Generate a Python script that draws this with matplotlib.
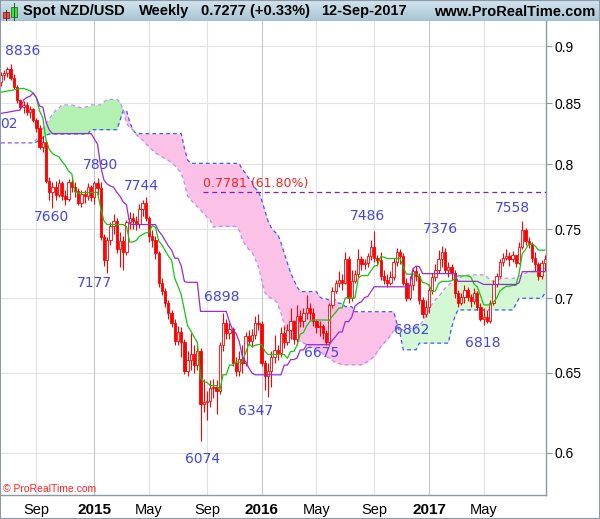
import numpy as np
import pandas as pd
import matplotlib
matplotlib.use("Agg")
import matplotlib.pyplot as plt
from matplotlib.patches import Rectangle
from matplotlib.lines import Line2D
from matplotlib.colors import LinearSegmentedColormap
from matplotlib.ticker import FixedLocator, NullLocator

plt.rcParams["font.family"] = ["Liberation Sans", "DejaVu Sans"]

# weekly NZD/USD candles
week_start = "2014-06-16"
first_open = 0.8680
close = [
    0.8740, 0.8760, 0.8800, 0.8720, 0.8640, 0.8530, 0.8470, 0.8490, 0.8430, 0.8450,
    0.8360, 0.8290, 0.8140, 0.8180, 0.7870, 0.7780, 0.7820, 0.7760, 0.7850, 0.7750,
    0.7730, 0.7860, 0.7820, 0.7790, 0.7700, 0.7770, 0.7750, 0.7820, 0.7740, 0.7850,
    0.7810, 0.7440, 0.7270, 0.7420, 0.7520, 0.7560, 0.7350, 0.7410, 0.7330, 0.7550,
    0.7580, 0.7560, 0.7540, 0.7650, 0.7700, 0.7580, 0.7450, 0.7420, 0.7320, 0.7110,
    0.7050, 0.6970, 0.6900, 0.6830, 0.6710, 0.6770, 0.6700, 0.6510, 0.6580, 0.6620,
    0.6550, 0.6640, 0.6300, 0.6310, 0.6320, 0.6400, 0.6410, 0.6380, 0.6680, 0.6830,
    0.6760, 0.6790, 0.6560, 0.6510, 0.6590, 0.6560, 0.6740, 0.6710, 0.6750, 0.6830,
    0.6820, 0.6560, 0.6480, 0.6510, 0.6600, 0.6650, 0.6630, 0.6760, 0.6700, 0.6780,
    0.6840, 0.6720, 0.6880, 0.6840, 0.6900, 0.6930, 0.6900, 0.6840, 0.6800, 0.6810,
    0.6760, 0.6700, 0.6950, 0.7050, 0.7110, 0.7130, 0.7110, 0.7280, 0.7000, 0.7120,
    0.7170, 0.7280, 0.7240, 0.7250, 0.7300, 0.7370, 0.7290, 0.7270, 0.7160, 0.7130,
    0.7110, 0.7150, 0.7260, 0.7330, 0.7300, 0.7110, 0.7000, 0.7090, 0.7190, 0.7160,
    0.6990, 0.6890, 0.6940, 0.7060, 0.7150, 0.7200, 0.7280, 0.7330, 0.7200, 0.7220,
    0.7180, 0.7040, 0.6970, 0.7010, 0.7060, 0.7010, 0.6980, 0.7040, 0.6940, 0.6860,
    0.6870, 0.6840, 0.6970, 0.7100, 0.7160, 0.7260, 0.7290, 0.7300, 0.7280, 0.7310,
    0.7250, 0.7370, 0.7490, 0.7410, 0.7390, 0.7290, 0.7240, 0.7160, 0.7253, 0.7277,
]
high = [
    0.8770, 0.8790, 0.8815, 0.8836, 0.8750, 0.8660, 0.8540, 0.8520, 0.8510, 0.8480,
    0.8460, 0.8380, 0.8320, 0.8230, 0.8190, 0.7900, 0.7860, 0.7870, 0.7880, 0.7870,
    0.7800, 0.7885, 0.7880, 0.7860, 0.7810, 0.7800, 0.7800, 0.7850, 0.7840, 0.7870,
    0.7890, 0.7860, 0.7460, 0.7440, 0.7550, 0.7610, 0.7580, 0.7480, 0.7450, 0.7570,
    0.7630, 0.7620, 0.7600, 0.7690, 0.7720, 0.7744, 0.7600, 0.7490, 0.7450, 0.7340,
    0.7140, 0.7070, 0.6990, 0.6920, 0.6860, 0.6810, 0.6800, 0.6720, 0.6640, 0.6760,
    0.6680, 0.6700, 0.6660, 0.6460, 0.6380, 0.6450, 0.6460, 0.6450, 0.6700, 0.6898,
    0.6860, 0.6830, 0.6800, 0.6600, 0.6640, 0.6680, 0.6770, 0.6780, 0.6790, 0.6880,
    0.6890, 0.6840, 0.6580, 0.6560, 0.6640, 0.6750, 0.6680, 0.6800, 0.6810, 0.6820,
    0.6930, 0.6850, 0.6950, 0.6920, 0.6930, 0.7020, 0.6970, 0.6930, 0.6860, 0.6840,
    0.6820, 0.6780, 0.6970, 0.7080, 0.7130, 0.7190, 0.7170, 0.7330, 0.7300, 0.7200,
    0.7200, 0.7350, 0.7300, 0.7280, 0.7320, 0.7420, 0.7486, 0.7310, 0.7330, 0.7200,
    0.7170, 0.7190, 0.7290, 0.7360, 0.7350, 0.7320, 0.7140, 0.7160, 0.7210, 0.7230,
    0.7180, 0.7010, 0.6990, 0.7100, 0.7180, 0.7240, 0.7345, 0.7376, 0.7360, 0.7260,
    0.7240, 0.7200, 0.7060, 0.7040, 0.7090, 0.7080, 0.7030, 0.7070, 0.7050, 0.6970,
    0.6930, 0.6920, 0.6990, 0.7130, 0.7180, 0.7280, 0.7320, 0.7350, 0.7330, 0.7340,
    0.7310, 0.7400, 0.7558, 0.7510, 0.7440, 0.7400, 0.7330, 0.7260, 0.7270, 0.7305,
]
low = [
    0.8650, 0.8700, 0.8730, 0.8700, 0.8620, 0.8500, 0.8450, 0.8420, 0.8400, 0.8380,
    0.8340, 0.8260, 0.8120, 0.8100, 0.7850, 0.7720, 0.7660, 0.7720, 0.7740, 0.7720,
    0.7680, 0.7710, 0.7780, 0.7740, 0.7680, 0.7670, 0.7700, 0.7720, 0.7710, 0.7690,
    0.7750, 0.7420, 0.7230, 0.7177, 0.7380, 0.7460, 0.7320, 0.7220, 0.7200, 0.7310,
    0.7500, 0.7500, 0.7490, 0.7510, 0.7600, 0.7560, 0.7400, 0.7370, 0.7280, 0.7080,
    0.7020, 0.6940, 0.6860, 0.6800, 0.6680, 0.6680, 0.6600, 0.6490, 0.6480, 0.6520,
    0.6500, 0.6520, 0.6074, 0.6250, 0.6200, 0.6280, 0.6340, 0.6240, 0.6360, 0.6640,
    0.6720, 0.6720, 0.6540, 0.6480, 0.6480, 0.6500, 0.6540, 0.6680, 0.6670, 0.6720,
    0.6780, 0.6540, 0.6390, 0.6347, 0.6410, 0.6560, 0.6580, 0.6600, 0.6660, 0.6680,
    0.6720, 0.6690, 0.6680, 0.6800, 0.6800, 0.6860, 0.6850, 0.6810, 0.6760, 0.6740,
    0.6720, 0.6680, 0.6675, 0.6930, 0.7040, 0.7080, 0.7060, 0.7100, 0.6970, 0.6980,
    0.7110, 0.7150, 0.7200, 0.7210, 0.7220, 0.7270, 0.7260, 0.7230, 0.7130, 0.7100,
    0.7080, 0.7090, 0.7130, 0.7230, 0.7240, 0.7090, 0.6980, 0.6990, 0.7060, 0.7120,
    0.6960, 0.6862, 0.6870, 0.6900, 0.7030, 0.7120, 0.7180, 0.7220, 0.7180, 0.7150,
    0.7130, 0.7000, 0.6940, 0.6950, 0.6970, 0.6980, 0.6940, 0.6960, 0.6920, 0.6840,
    0.6818, 0.6830, 0.6830, 0.6950, 0.7080, 0.7140, 0.7230, 0.7270, 0.7230, 0.7260,
    0.7220, 0.7240, 0.7350, 0.7380, 0.7360, 0.7260, 0.7190, 0.7130, 0.7135, 0.7196,
]

# first weeks of the conversion/base lines, before a full window exists
tenkan_start = [0.8595, 0.8600, 0.8605, 0.8610, 0.8615, 0.8620, 0.8625, 0.8628]
kijun_start = [0.8416, 0.8420, 0.8425, 0.8430, 0.8435, 0.8440, 0.8444, 0.8529, 0.8550, 0.8560]

# leading spans (cloud) as drawn on the chart
span_a = [
    0.8173, 0.8173, 0.8173, 0.8173, 0.8173, 0.8173, 0.8173, 0.8173, 0.8173, 0.8173,
    0.8173, 0.8200, 0.8237, 0.8290, 0.8330, 0.8368, 0.8410, 0.8440, 0.8460, 0.8487,
    0.8487, 0.8487, 0.8487, 0.8480, 0.8466, 0.8466, 0.8466, 0.8475, 0.8487, 0.8487,
    0.8487, 0.8487, 0.8510, 0.8534, 0.8534, 0.8534, 0.8534, 0.8510, 0.8444, 0.8330,
    0.8300, 0.8277, 0.8240, 0.8215, 0.8195, 0.8165, 0.8140, 0.8115, 0.8090, 0.8075,
    0.8060, 0.8045, 0.8030, 0.8012, 0.7990, 0.7960, 0.7931, 0.7850, 0.7750, 0.7720,
    0.7695, 0.7668, 0.7643, 0.7615, 0.7590, 0.7567, 0.7514, 0.7520, 0.7520, 0.7520,
    0.7520, 0.7520, 0.7520, 0.7520, 0.7492, 0.7418, 0.7380, 0.7350, 0.7330, 0.7280,
    0.7222, 0.7129, 0.7040, 0.7011, 0.7000, 0.6990, 0.6960, 0.6900, 0.6820, 0.6749,
    0.6730, 0.6720, 0.6715, 0.6705, 0.6695, 0.6685, 0.6671, 0.6660, 0.6650, 0.6640,
    0.6625, 0.6605, 0.6595, 0.6580, 0.6565, 0.6560, 0.6551, 0.6551, 0.6551, 0.6551,
    0.6551, 0.6551, 0.6551, 0.6560, 0.6575, 0.6590, 0.6605, 0.6640, 0.6670, 0.6695,
    0.6715, 0.6745, 0.6775, 0.6805, 0.6800, 0.6780, 0.6780, 0.6790, 0.6800, 0.6805,
    0.6810, 0.6840, 0.6880, 0.6920, 0.6960, 0.6990, 0.7011, 0.7040, 0.7070, 0.7090,
    0.7110, 0.7129, 0.7140, 0.7150, 0.7158, 0.7162, 0.7165, 0.7165, 0.7165, 0.7165,
    0.7165, 0.7150, 0.7130, 0.7118, 0.7125, 0.7135, 0.7141, 0.7141, 0.7141, 0.7141,
    0.7141, 0.7155, 0.7165, 0.7177, 0.7185, 0.7190, 0.7195, 0.7200, 0.7205, 0.7212,
]
span_b = [
    0.8173, 0.8173, 0.8173, 0.8173, 0.8173, 0.8173, 0.8173, 0.8173, 0.8173, 0.8173,
    0.8173, 0.8180, 0.8195, 0.8215, 0.8235, 0.8245, 0.8245, 0.8245, 0.8245, 0.8245,
    0.8245, 0.8245, 0.8245, 0.8245, 0.8245, 0.8245, 0.8245, 0.8245, 0.8280, 0.8280,
    0.8280, 0.8280, 0.8280, 0.8280, 0.8280, 0.8280, 0.8280, 0.8360, 0.8440, 0.8440,
    0.8343, 0.8278, 0.8248, 0.8248, 0.8248, 0.8248, 0.8248, 0.8248, 0.8248, 0.8248,
    0.8248, 0.8248, 0.8248, 0.8248, 0.8248, 0.8248, 0.8248, 0.8128, 0.8033, 0.8007,
    0.8007, 0.8007, 0.8007, 0.8007, 0.8007, 0.8007, 0.8007, 0.8007, 0.8007, 0.8007,
    0.8007, 0.8007, 0.8007, 0.8007, 0.8007, 0.7958, 0.7928, 0.7888, 0.7860, 0.7810,
    0.7790, 0.7720, 0.7640, 0.7560, 0.7510, 0.7480, 0.7460, 0.7400, 0.7320, 0.7250,
    0.7180, 0.7130, 0.7080, 0.7047, 0.7047, 0.7047, 0.7047, 0.7047, 0.7047, 0.7011,
    0.6995, 0.6995, 0.6988, 0.6988, 0.6988, 0.6965, 0.6965, 0.6942, 0.6942, 0.6942,
    0.6907, 0.6907, 0.6907, 0.6907, 0.6907, 0.6907, 0.6907, 0.6907, 0.6907, 0.6907,
    0.6907, 0.6907, 0.6907, 0.6830, 0.6760, 0.6650, 0.6650, 0.6650, 0.6650, 0.6650,
    0.6694, 0.6694, 0.6694, 0.6694, 0.6694, 0.6694, 0.6694, 0.6694, 0.6694, 0.6694,
    0.6797, 0.6870, 0.6919, 0.6919, 0.6919, 0.6919, 0.6919, 0.6919, 0.6919, 0.6919,
    0.6919, 0.6919, 0.6919, 0.6919, 0.6919, 0.6919, 0.6919, 0.6919, 0.6919, 0.6919,
    0.6960, 0.7000, 0.7000, 0.7000, 0.7000, 0.7000, 0.7000, 0.7000, 0.7000, 0.7035,
]

# swing highs / lows that carry a label
pivot_weeks = [3, 16, 30, 33, 45, 62, 69, 83, 102, 116, 131, 137, 150, 162]
pivot_kind = ["H", "L", "H", "L", "H", "L", "H", "L", "L", "H", "L", "H", "L", "H"]
# label nudges in pixels (right, down)
label_nudge = [(12, -13.5), (-0.5, 9), (2.5, -13), (-13, 10), (-4, -10.5), (2, 18),
               (-1.5, -15.5), (-13, 14), (-7.5, 7), (-7, -15), (-11, 12), (-1, -17),
               (-0.7, 18), (-10, -13)]

# ---------------------------------------------------------------
weeks = pd.date_range(week_start, periods=len(close), freq="7D")
df = pd.DataFrame({"close": close, "high": high, "low": low}, index=weeks)
df["open"] = df["close"].shift(1).fillna(first_open)
x = np.arange(len(df))

tenkan = (df["high"].rolling(9, min_periods=1).max() + df["low"].rolling(9, min_periods=1).min()) / 2
tenkan.iloc[:len(tenkan_start)] = tenkan_start
kijun = (df["high"].rolling(26, min_periods=1).max() + df["low"].rolling(26, min_periods=1).min()) / 2
kijun.iloc[:len(kijun_start)] = kijun_start

W, H = 600, 519
fig = plt.figure(figsize=(W / 100, H / 100), dpi=100)
ax = fig.add_axes([0, 24 / H, 545.7 / W, 474 / H])
ax.set_facecolor("white")

# cloud: each bullish / bearish stretch gets its own shade
sa = np.array(span_a)
sb = np.array(span_b)
bull = sa >= sb
green_shades = ["#b2f1b2", "#d4f8d4"]
pink_shades = ["#fbc1e7"]
start, n_g, n_p = 0, 0, 0
for i in range(1, len(x) + 1):
    if i == len(x) or bull[i] != bull[start]:
        seg = slice(max(start - 1, 0), i)
        if bull[start]:
            col = green_shades[min(n_g, len(green_shades) - 1)]
            n_g += 1
        else:
            col = pink_shades[min(n_p, len(pink_shades) - 1)]
            n_p += 1
        ax.fill_between(x[seg], sa[seg], sb[seg], color=col, lw=0, zorder=1)
        start = i
ax.plot(x, sb, color="#3d5cf0", lw=0.9, ls=(0, (3, 2.5)), zorder=2)
ax.plot(x, sa, color="#c28af0", lw=0.9, ls=(0, (3, 2.5)), zorder=2)

# candles: hollow when up, filled when down
red = "#ff0000"
up = (df["close"] >= df["open"]).values
bottom = np.minimum(df["open"], df["close"]).values
height = np.maximum(np.abs(df["close"] - df["open"]).values, 0.0005)
ax.vlines(x, df["low"], df["high"], color=red, lw=0.8, zorder=4)
ax.bar(x[up], height[up], bottom=bottom[up], width=0.72, facecolor="white",
       edgecolor=red, linewidth=0.6, zorder=5)
ax.bar(x[~up], height[~up], bottom=bottom[~up], width=0.72, facecolor=red,
       edgecolor=red, linewidth=0.6, zorder=5)

ax.plot(x, tenkan, color="#16c416", lw=0.9, zorder=6)
ax.plot(x, kijun, color="#9a2ccf", lw=0.9, zorder=6)

# 61.8% retracement of the whole swing
lo_i = int(np.argmin(df["low"].values))
hi_v, lo_v = df["high"].max(), df["low"].min()
fib = lo_v + 0.618 * (hi_v - lo_v)
ax.hlines(fib, lo_i + 0.8, x[-1] + 0.5, colors="#7a22b8", linestyles=(0, (4, 3)), lw=0.9, zorder=3)
ax.text(lo_i + 0.8, fib * 1.0025, f"{fib:.4f} (61.80%)", color="#ff2020", fontsize=9,
        family="DejaVu Sans", ha="left", va="bottom", zorder=7)

# pivot labels
for i, k, (dx, dy) in zip(pivot_weeks, pivot_kind, label_nudge):
    v = df["high"].iloc[i] if k == "H" else df["low"].iloc[i]
    ax.annotate(f"{v * 10000:.0f}", xy=(i, v), xytext=(dx * 0.72, -dy * 0.72),
                textcoords="offset points", ha="center", va="center", fontsize=10,
                family="DejaVu Sans", color="#4646dc", zorder=7)
# label of an older pivot, cut by the left edge
ax.annotate("02", xy=(0, 0.8331), xycoords=("axes fraction", "data"), ha="left",
            va="center", fontsize=10, family="DejaVu Sans", color="#4646dc", zorder=7)

# axes
ax.set_xlim(-0.31, 169.27)
ax.set_yscale("log")
ax.set_ylim(0.5754, 0.9227)
yt = [0.6, 0.65, 0.7, 0.75, 0.8, 0.85, 0.9]
ax.yaxis.set_major_locator(FixedLocator(yt))
ax.yaxis.set_minor_locator(NullLocator())
ax.set_yticklabels(["0.6", "0.65", "0.7", "0.75", "0.8", "0.85", "0.9"])
ax.yaxis.tick_right()
ax.tick_params(axis="y", length=4, width=0.8, color="#8a9aa6", pad=2, labelsize=10)
for v in yt:
    ax.axhline(v, color="#e4e4e4", lw=0.8, zorder=0)

# month marks at the first weekly bar of Jan / May / Sep, none in the last few bars
tick_idx, tick_lab = [], []
for i in range(1, len(weeks) - 4):
    m = weeks[i].month
    if m != weeks[i - 1].month and m in (1, 5, 9):
        tick_idx.append(i)
        tick_lab.append(str(weeks[i].year) if m == 1 else weeks[i].strftime("%b"))
ax.set_xticks(tick_idx)
ax.set_xticklabels(tick_lab)
ax.xaxis.set_minor_locator(NullLocator())
ax.tick_params(axis="x", length=0, pad=6, labelsize=10.5)
for t, lab in zip(ax.get_xticklabels(), tick_lab):
    if lab.isdigit():
        t.set_fontweight("bold")
        t.set_fontsize(11)
for i, lab in zip(tick_idx, tick_lab):
    ax.axvline(i, color="#c8c8c8" if lab.isdigit() else "#e2e2e2", lw=0.8, zorder=0)

for s in ("top", "left"):
    ax.spines[s].set_visible(False)
for s in ("right", "bottom"):
    ax.spines[s].set_color("#8a9aa6")
    ax.spines[s].set_linewidth(1.0)

# title bar
tax = fig.add_axes([0, 1 - 21 / H, 1, 21 / H])
tax.set_xlim(0, W)
tax.set_ylim(21, 0)
tax.axis("off")
bar_cmap = LinearSegmentedColormap.from_list("bar", ["#d2e3ed", "#a8c5d5"])
tax.imshow(np.linspace(0, 1, 21)[:, None], aspect="auto", cmap=bar_cmap, extent=(0, W, 21, 0))
tax.add_line(Line2D([0, W], [20.6, 20.6], color="#8fa6b4", lw=1))
tax.add_line(Line2D([5.7, 5.7], [9.5, 20], color="#702020", lw=0.7))
tax.add_patch(Rectangle((3, 11.5), 5.5, 6.5, facecolor="#e85050", edgecolor="#802020", lw=0.6))
tax.add_line(Line2D([13.7, 13.7], [3, 19.5], color="#206020", lw=0.7))
tax.add_patch(Rectangle((10.7, 6.5), 6, 10, facecolor="#44dd44", edgecolor="#207020", lw=0.6))
title_bits = [(23.3, "Spot NZD/USD"), (139, "Weekly"), (201, "0.7277 (+0.33%)"),
              (321.5, "12-Sep-2017"), (433.6, "www.ProRealTime.com")]
for tx, s in title_bits:
    tax.text(tx, 11.5, s, fontsize=10.5, fontweight="bold", color="black", ha="left", va="center")

fig.text(3 / W, 1 - 489 / H, "\u00a9 ProRealTime.com", color="#ff2020", fontsize=7.5,
         ha="left", va="center")
fig.patches.append(Rectangle((0, 0), 1, 1, transform=fig.transFigure, fill=False,
                             edgecolor="#8a9aa6", lw=1.5))

fig.savefig("out.png", dpi=100)
